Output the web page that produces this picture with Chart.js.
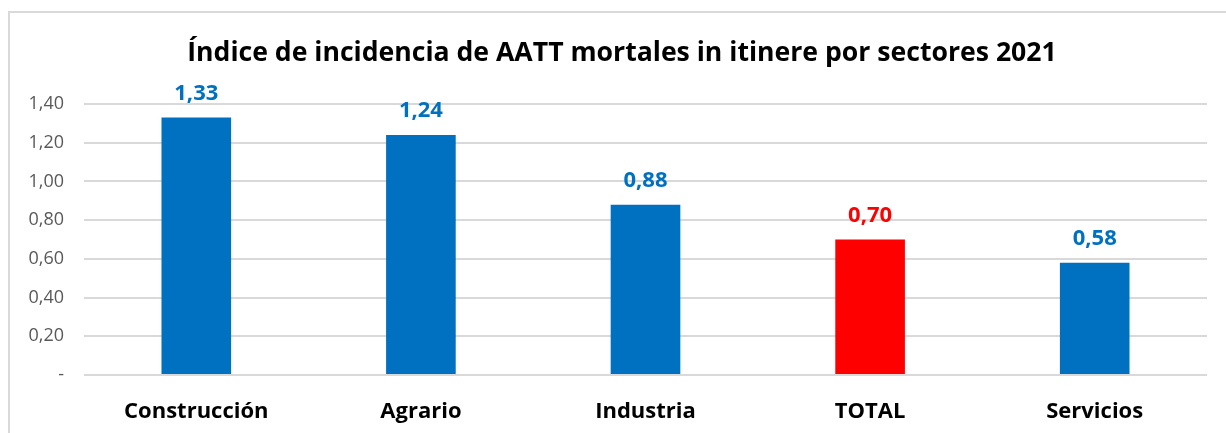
<!DOCTYPE html>
<html>
<head>
<meta charset="utf-8">
<script src="https://cdn.jsdelivr.net/npm/chart.js@4"></script>
<style>
html,body{margin:0;padding:0;background:#fff;overflow:hidden;}
#wrap{position:absolute;left:0;top:0;width:1226px;height:433px;}
</style>
</head>
<body>
<div id="wrap"><canvas id="c" width="1226" height="433"></canvas></div>
<script>
const categories = ["Construcción", "Agrario", "Industria", "TOTAL", "Servicios"];
const values = [1.33, 1.24, 0.88, 0.70, 0.58];
const barColors = ["#0070C0", "#0070C0", "#0070C0", "#FF0000", "#0070C0"];
const yTicks = [0, 0.2, 0.4, 0.6, 0.8, 1.0, 1.2, 1.4];
const titleText = "Índice de incidencia de AATT mortales in itinere por sectores 2021";

const fmt = v => v === 0 ? "-" : v.toFixed(2).replace(".", ",");
const FONT = "'Open Sans', Lato, sans-serif";

const frame = {
  id: "frame",
  beforeDraw(chart) {
    const ctx = chart.ctx;
    ctx.save();
    ctx.fillStyle = "#fff";
    ctx.fillRect(0, 0, chart.width, chart.height);
    ctx.strokeStyle = "#d9d9d9";
    ctx.lineWidth = 2;
    ctx.strokeRect(9, 12, 1250, 450);
    ctx.restore();
  },
  afterDraw(chart) {
    const ctx = chart.ctx;
    ctx.save();
    let size = 26;
    ctx.font = "bold " + size + "px " + FONT;
    const w = ctx.measureText(titleText).width;
    size = size * 870 / w;
    ctx.font = "bold " + size.toFixed(2) + "px " + FONT;
    ctx.fillStyle = "#000";
    ctx.textAlign = "center";
    ctx.textBaseline = "alphabetic";
    ctx.fillText(titleText, 622, 61);
    ctx.restore();
  }
};

const labels = {
  id: "valueLabels",
  afterDatasetsDraw(chart) {
    const ctx = chart.ctx;
    const meta = chart.getDatasetMeta(0);
    ctx.save();
    ctx.font = "bold 22px " + FONT;
    ctx.textAlign = "center";
    ctx.textBaseline = "alphabetic";
    meta.data.forEach((bar, i) => {
      ctx.fillStyle = barColors[i];
      ctx.fillText(fmt(values[i]), bar.x, bar.y - 18);
    });
    ctx.restore();
  }
};

new Chart(document.getElementById("c"), {
  type: "bar",
  data: {
    labels: categories,
    datasets: [{
      data: values,
      backgroundColor: barColors,
      borderWidth: 0,
      categoryPercentage: 1,
      barPercentage: 0.31
    }]
  },
  options: {
    responsive: false,
    animation: false,
    devicePixelRatio: 1,
    layout: { padding: { left: 0, right: 19, top: 104, bottom: 0 } },
    plugins: {
      legend: { display: false },
      tooltip: { enabled: false },
      title: { display: false }
    },
    scales: {
      x: {
        grid: { display: false },
        border: { display: false },
        ticks: {
          color: "#000",
          font: { family: FONT, size: 22, weight: "bold" },
          padding: 16
        },
        afterFit(s) { s.height = 58; }
      },
      y: {
        min: 0,
        max: 1.4,
        afterBuildTicks(s) { s.ticks = yTicks.map(v => ({ value: v })); },
        grid: { color: "#d9d9d9", lineWidth: 2, drawTicks: false },
        border: { display: false },
        ticks: {
          color: "#595959",
          font: { family: FONT, size: 18 },
          padding: 20,
          callback: v => fmt(v)
        },
        afterFit(s) { s.width = 84; }
      }
    }
  },
  plugins: [frame, labels]
});
</script>
</body>
</html>
